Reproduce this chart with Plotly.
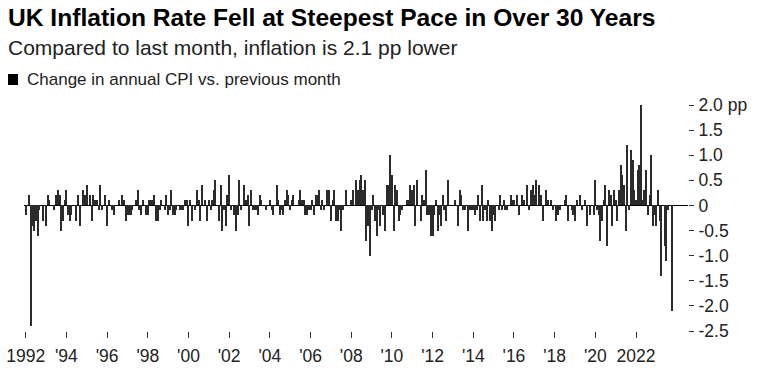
import pandas as pd
import plotly.graph_objects as go

# ---------------- data ----------------
start_month = "1992-01-01"
end_month = "2023-10-01"

cpi_change_1992_1999 = [
    -0.2, 0.0, 0.2, -2.4, -0.4, -0.5, -0.3, -0.6, -0.1, 0.0, -0.3, 0.0,   # 1992
    -0.4, 0.2, 0.1, 0.0, 0.0, -0.1, 0.2, 0.3, 0.2, -0.5, -0.3, 0.1,      # 1993
    0.3, -0.2, -0.3, -0.2, 0.0, 0.0, -0.3, 0.2, -0.4, 0.0, 0.3, 0.2,     # 1994
    0.4, 0.0, 0.2, -0.3, 0.2, 0.1, 0.1, -0.1, 0.4, -0.1, 0.0, 0.2,       # 1995
    -0.4, 0.1, 0.0, -0.1, -0.2, 0.0, 0.0, 0.1, 0.0, 0.2, 0.1, -0.3,      # 1996
    -0.2, -0.2, -0.2, -0.1, 0.0, 0.1, 0.3, -0.1, -0.2, 0.1, 0.0, -0.2,   # 1997
    -0.2, 0.1, 0.1, 0.1, 0.2, -0.3, -0.3, -0.1, 0.1, 0.0, -0.1, 0.2,     # 1998
    -0.2, -0.1, 0.3, -0.2, -0.2, -0.1, 0.0, -0.1, -0.1, -0.1, 0.1, 0.1,  # 1999
]
cpi_change_2000_2009 = [
    -0.4, 0.1, -0.3, 0.0, -0.1, 0.3, 0.1, -0.3, 0.4, 0.0, 0.1, -0.3,     # 2000
    0.1, -0.1, 0.1, 0.3, 0.5, 0.0, -0.3, 0.4, -0.5, -0.1, -0.4, 0.2,     # 2001
    0.6, -0.1, 0.0, -0.2, -0.5, -0.2, 0.5, -0.1, 0.0, 0.4, 0.1, 0.2,     # 2002
    -0.4, 0.3, -0.1, -0.1, -0.1, -0.2, 0.2, 0.1, 0.0, 0.0, -0.1, 0.0,    # 2003
    0.1, -0.1, -0.2, 0.0, 0.4, 0.1, -0.2, -0.1, -0.2, 0.1, 0.3, 0.2,     # 2004
    -0.1, 0.1, 0.2, 0.0, 0.0, 0.1, 0.3, 0.1, 0.1, -0.2, -0.2, -0.1,      # 2005
    -0.1, 0.1, -0.2, 0.2, 0.2, 0.3, -0.1, 0.1, -0.1, 0.0, 0.3, 0.3,      # 2006
    -0.3, 0.1, 0.3, -0.3, -0.3, -0.1, -0.5, -0.1, 0.0, 0.3, 0.0, 0.0,    # 2007
    0.1, 0.3, 0.0, 0.5, 0.3, 0.5, 0.6, 0.3, 0.5, -0.7, -0.4, -1.0,       # 2008
    -0.1, 0.2, -0.3, -0.6, -0.1, -0.4, 0.0, -0.2, -0.5, 0.4, 0.4, 1.0,   # 2009
]
cpi_change_2010_2019 = [
    0.6, -0.5, 0.4, 0.3, -0.3, -0.2, -0.1, 0.0, 0.0, 0.1, 0.1, 0.4,      # 2010
    0.3, 0.4, -0.4, 0.5, 0.0, -0.3, 0.2, 0.1, 0.7, -0.2, -0.2, -0.6,     # 2011
    -0.6, -0.2, 0.1, -0.5, -0.2, -0.4, 0.2, -0.1, -0.3, 0.5, 0.0, 0.0,   # 2012
    0.0, 0.1, 0.0, -0.4, 0.3, 0.2, -0.1, -0.1, 0.0, -0.5, -0.1, -0.1,    # 2013
    -0.1, -0.2, -0.1, 0.2, -0.3, 0.4, -0.3, -0.1, -0.3, 0.1, -0.3, -0.5, # 2014
    -0.2, -0.3, 0.0, -0.1, 0.2, -0.1, 0.1, -0.1, -0.1, 0.0, 0.2, 0.1,    # 2015
    0.1, 0.0, 0.2, -0.2, 0.0, 0.2, 0.1, 0.0, 0.4, -0.1, 0.3, 0.4,        # 2016
    0.2, 0.5, 0.0, 0.4, 0.2, -0.3, 0.0, 0.3, 0.1, 0.0, 0.1, -0.1,        # 2017
    0.0, -0.3, -0.2, -0.1, 0.0, 0.0, 0.1, 0.2, -0.3, 0.0, -0.1, -0.2,    # 2018
    -0.3, 0.1, 0.0, 0.2, -0.1, 0.0, 0.1, -0.4, 0.0, -0.2, 0.0, -0.2,     # 2019
]
cpi_change_2020_2023 = [
    0.5, -0.1, -0.2, -0.7, -0.3, 0.1, 0.4, -0.8, 0.3, 0.2, -0.4, 0.3,    # 2020
    0.1, -0.3, 0.3, 0.8, 0.6, 0.4, -0.5, 1.2, -0.1, 1.1, 0.9, 0.3,       # 2021
    0.1, 0.7, 0.8, 2.0, 0.1, 0.3, 0.7, -0.2, 0.2, 1.0, -0.4, -0.2,       # 2022
    -0.4, 0.3, -0.3, -1.4, 0.0, -0.8, -1.1, -0.1, 0.0, -2.1,             # 2023
]

x_tick_years = list(range(1992, 2023, 2))
x_tick_text = ["1992", "'94", "'96", "'98", "'00", "'02", "'04", "'06", "'08",
               "'10", "'12", "'14", "'16", "'18", "'20", "2022"]
y_tick_vals = [2.0, 1.5, 1.0, 0.5, 0, -0.5, -1.0, -1.5, -2.0, -2.5]
y_tick_text = ["2.0 pp", "1.5", "1.0", "0.5", "0", "-0.5", "-1.0", "-1.5", "-2.0", "-2.5"]

title_text = "UK Inflation Rate Fell at Steepest Pace in Over 30 Years"
subtitle_text = "Compared to last month, inflation is 2.1 pp lower"
legend_text = "Change in annual CPI vs. previous month"

# ---------------- build ----------------
months = pd.date_range(start_month, end_month, freq="MS")
values = cpi_change_1992_1999 + cpi_change_2000_2009 + cpi_change_2010_2019 + cpi_change_2020_2023
assert len(values) == len(months)

W, H = 762, 375
# plot box in page pixels: x 24..688, y 105..331
ML, MT = 24, 105
MR, MB = W - 688, H - 331
PW, PH = W - ML - MR, H - MT - MB


def px(x):
    """page pixel x -> paper x"""
    return (x - ML) / PW


def py(y):
    """page pixel y -> paper y"""
    return (H - MB - y) / PH


FONT = "Liberation Sans, Arial, Helvetica, sans-serif"

fig = go.Figure()
fig.add_trace(go.Bar(
    x=months,
    y=values,
    width=20 * 24 * 3600 * 1000,
    marker=dict(color="#2b2b2b", line=dict(width=0)),
    showlegend=False,
    hovertemplate="%{x|%b %Y}: %{y:.1f} pp<extra></extra>",
))

fig.update_layout(
    width=W, height=H,
    margin=dict(l=ML, r=MR, t=MT, b=MB, pad=0, autoexpand=False),
    paper_bgcolor="white", plot_bgcolor="white",
    font=dict(family=FONT, color="#222", size=17),
    bargap=0,
    xaxis=dict(
        type="date",
        range=["1991-12-01", "2024-07-22"],
        tickvals=[f"{y}-01-01" for y in x_tick_years],
        ticktext=x_tick_text,
        ticks="outside", ticklen=6, tickwidth=1, tickcolor="#333",
        ticklabelstandoff=3,
        ticklabeloverflow="allow",
        showgrid=False, zeroline=False, showline=False,
        tickfont=dict(size=17.5, color="#222"),
        automargin=False,
    ),
    yaxis=dict(
        side="right",
        range=[-2.5, 2.0],
        tickvals=y_tick_vals,
        ticktext=y_tick_text,
        ticks="outside", ticklen=5, tickwidth=1, tickcolor="#333",
        ticklabelstandoff=1,
        showgrid=False, zeroline=True, zerolinecolor="#000", zerolinewidth=1,
        showline=False,
        tickfont=dict(size=17.5, color="#222"),
        automargin=False,
    ),
    annotations=[
        dict(text=title_text, xref="paper", yref="paper", x=px(6), y=py(18),
             xanchor="left", yanchor="middle", showarrow=False,
             font=dict(family=FONT, size=24.6, color="#000", weight=700)),
        dict(text=subtitle_text, xref="paper", yref="paper", x=px(6), y=py(48),
             xanchor="left", yanchor="middle", showarrow=False,
             font=dict(family=FONT, size=21, color="#222")),
        dict(text=legend_text, xref="paper", yref="paper", x=px(25), y=py(79),
             xanchor="left", yanchor="middle", showarrow=False,
             font=dict(family=FONT, size=17, color="#222")),
    ],
    shapes=[
        dict(type="rect", xref="paper", yref="paper",
             x0=px(8), x1=px(18), y0=py(85), y1=py(74),
             fillcolor="#000", line=dict(width=0)),
    ],
)

fig.write_html(
    "out.html",
    config={"displayModeBar": False},
    post_script="document.body.style.margin='0';document.body.style.padding='0';",
)
